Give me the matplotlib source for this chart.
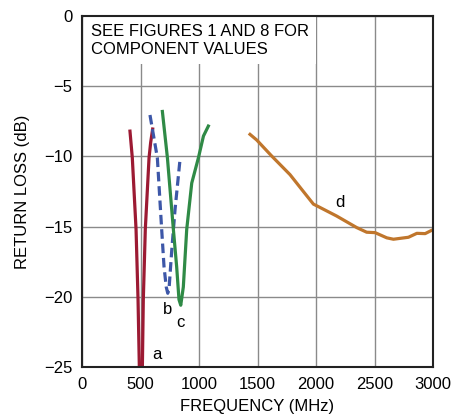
import matplotlib
matplotlib.use("Agg")
import matplotlib.pyplot as plt

plt.rcParams['font.family'] = ['Liberation Sans', 'DejaVu Sans']

# Curve a (dark red)
a_freq = [410, 430, 462, 479, 490, 496, 510, 516, 524, 541, 573, 587, 604]
a_db = [-8.2, -10.1, -15.2, -20.2, -25.0, -27.0, -27.0, -25.0, -20.2, -15.2, -10.1, -9.0, -8.05]
# Curve b (blue dashed)
b_freq = [581, 644, 681, 701, 720, 733, 745, 767, 795, 838]
b_db = [-7.05, -10.1, -15.2, -17.85, -19.3, -19.75, -19.3, -16.7, -13.8, -10.2]
# Curve c (green)
c_freq = [687, 730, 781, 809, 829, 844, 866, 895, 938, 995, 1038, 1080]
c_db = [-6.8, -10.1, -15.2, -17.85, -20.2, -20.6, -19.3, -15.2, -11.9, -10.1, -8.55, -7.84]
# Curve d (orange)
d_freq = [1436, 1493, 1621, 1778, 1892, 1978, 2021, 2177, 2348, 2433, 2505, 2605, 2662, 2790, 2862, 2933, 3004]
d_db = [-8.43, -8.83, -9.97, -11.3, -12.5, -13.4, -13.58, -14.25, -15.07, -15.4, -15.43, -15.8, -15.9, -15.76, -15.48, -15.5, -15.2]

xticks = [0, 500, 1000, 1500, 2000, 2500, 3000]
yticks = [0, -5, -10, -15, -20, -25]
ytick_labels = ['0', '\u22125', '\u221210', '\u221215', '\u221220', '\u221225']

fig = plt.figure(figsize=(4.55, 4.2), dpi=100)
ax = fig.add_axes([82/455, 1-367/420, 351/455, 351/420])

ax.plot(a_freq, a_db, color='#9c1a33', lw=2.3)
ax.plot(b_freq, b_db, color='#3d57a8', lw=2.3, ls=(0, (3, 1.5)))
ax.plot(c_freq, c_db, color='#2f8a46', lw=2.3)
ax.plot(d_freq, d_db, color='#c0762c', lw=2.3)

ax.set_xlim(0, 3000)
ax.set_ylim(-25, 0)
ax.set_xticks(xticks)
ax.set_yticks(yticks)
ax.set_yticklabels(ytick_labels)
ax.grid(True, color='#8a8a8a', lw=1.0)
ax.set_axisbelow(True)
ax.tick_params(length=0, labelsize=12, pad=7)
for s in ax.spines.values():
    s.set_linewidth(1.5)
    s.set_color('#222222')
    s.set_zorder(5)

ax.set_xlabel('FREQUENCY (MHz)', fontsize=12, labelpad=5)
ax.set_ylabel('RETURN LOSS (dB)', fontsize=12, labelpad=10)

ax.text(604, -24.1, 'a', fontsize=12, ha='left', va='center')
ax.text(729, -20.9, 'b', fontsize=12, ha='center', va='center')
ax.text(844, -21.8, 'c', fontsize=12, ha='center', va='center')
ax.text(2205, -13.3, 'd', fontsize=12, ha='center', va='center')

ax.text(75, -0.55, 'SEE FIGURES 1 AND 8 FOR\nCOMPONENT VALUES', fontsize=12,
        ha='left', va='top', linespacing=1.3, zorder=2,
        bbox=dict(facecolor='white', edgecolor='none', pad=5))

fig.savefig('out.png', dpi=100)
